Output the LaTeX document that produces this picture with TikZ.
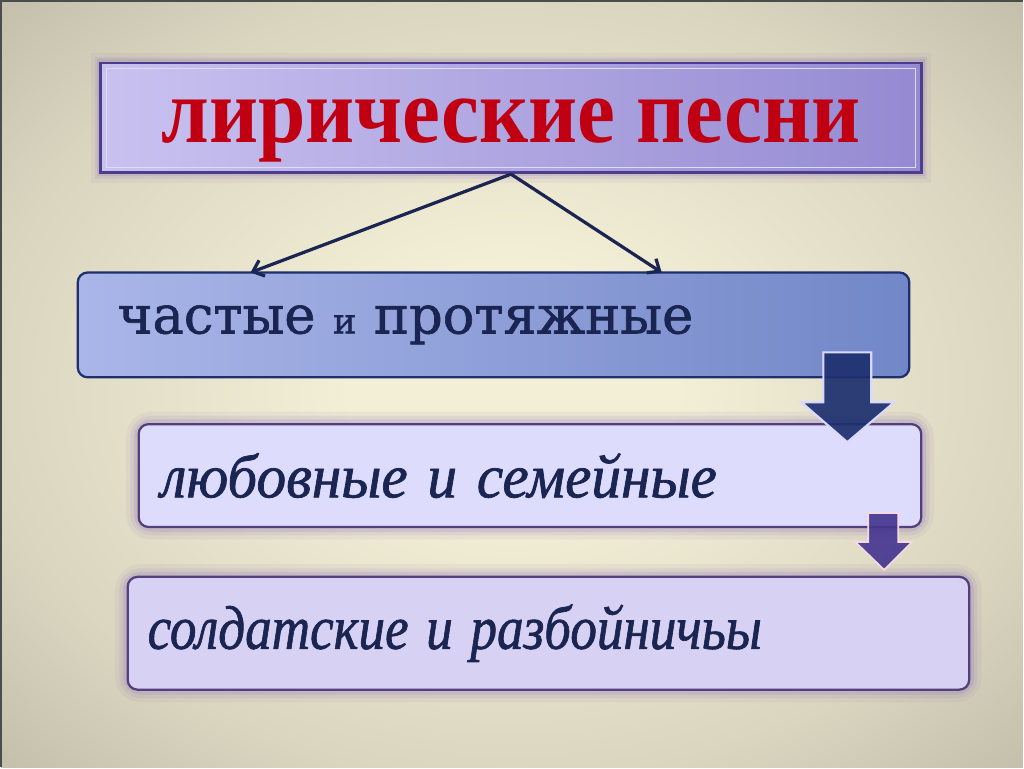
\documentclass[tikz,border=0pt]{standalone}
\usepackage{fontspec}
\usetikzlibrary{arrows.meta}
\setmainfont{Liberation Serif}
\newfontfamily\plainfont[FakeBold=1.2]{DejaVu Serif}
\newfontfamily\slantfont[FakeBold=1.2, WordSpace=0.75]{Liberation Serif Italic}

\definecolor{bgin}{HTML}{F3EED6}
\definecolor{bgmid}{HTML}{DAD5BF}
\definecolor{bgedge}{HTML}{BDB9A6}
\definecolor{bgout}{HTML}{9E9D90}
\definecolor{titleleft}{HTML}{C9C2F0}
\definecolor{titleright}{HTML}{958AD2}
\definecolor{titleline}{HTML}{4B3F8C}
\definecolor{titlered}{HTML}{C00012}
\definecolor{navy}{HTML}{1B2552}
\definecolor{blueleft}{HTML}{AAB6E8}
\definecolor{blueright}{HTML}{7287C8}
\definecolor{blueline}{HTML}{1D2F6E}
\definecolor{purpleline}{HTML}{523F7C}
\definecolor{glowpurple}{HTML}{8A6AB8}

\pgfdeclareradialshading{backdrop}{\pgfpoint{0bp}{0bp}}{color(0bp)=(bgin); color(8bp)=(bgin); color(26bp)=(bgmid); color(38bp)=(bgedge); color(50bp)=(bgout)}

\begin{document}
\begin{tikzpicture}[x=0.025cm, y=-0.025cm,
	kind/.style={rounded corners=7pt, line width=1.6pt, inner ysep=0pt, align=left},
	glow/.style={rounded corners=9pt, draw=glowpurple}
]
	% background
	\shade[shading=backdrop] (0,0) rectangle (1024,768);
	\draw[black!70, line width=1.5pt] (0,768) -- (0,0) -- (1024,0);

	% title
	\foreach \w/\o in {14/0.07, 9/0.12, 5/0.18}
		\draw[glowpurple, line width=\w pt, opacity=\o] (100,62) rectangle (922,172);
	\node[draw=titleline, line width=2pt, left color=titleleft, right color=titleright,
		minimum width=20.55cm, minimum height=2.75cm, inner sep=0pt] (title) at (511,117) {};
	\draw[white!40!titleleft, line width=0.8pt] ([shift={(7,7)}]title.north west) rectangle ([shift={(-7,-7)}]title.south east);
	\node[titlered, font=\bfseries\fontsize{66}{72}\selectfont, yshift=-9] (titletext) at (title.center)
		{\scalebox{0.92}[1]{лирические песни}};

	% kinds of songs
	\foreach \w/\o in {18/0.07, 12/0.11, 7/0.17} {
		\draw[glow, line width=\w pt, opacity=\o] (138,424) rectangle (922,527);
		\draw[glow, line width=\w pt, opacity=\o] (127,577) rectangle (970,690);
	}
	\node[kind, draw=blueline, left color=blueleft, right color=blueright,
		minimum width=20.825cm, minimum height=2.625cm, text width=18.825cm, inner xsep=1cm,
		text=navy, font=\plainfont\fontsize{37.5}{42}\selectfont] (fast) at (493.5,324.5)
		{частые {\fontsize{25}{28}\selectfont и} протяжные};
	\node[kind, draw=purpleline, fill=blue!12!white!85!titleleft,
		minimum width=19.6cm, minimum height=2.575cm, text width=18.5cm, inner xsep=0.55cm,
		text=navy, font=\slantfont\fontsize{44}{50}\selectfont] (love) at (530,475.5)
		{\scalebox{0.96}[1]{любовные и семейные}};
	\node[kind, draw=purpleline, fill=titleleft!75!white,
		minimum width=21.075cm, minimum height=2.825cm, text width=20.075cm, inner xsep=0.5cm,
		text=navy, font=\slantfont\fontsize{44}{50}\selectfont] (soldier) at (548.5,633.5)
		{\scalebox{0.86}[1]{солдатские и разбойничьы}};

	% connectors
	\coordinate (leftend) at (250,272);
	\coordinate (rightend) at (662,272);
	\draw[-{Straight Barb[length=7pt, width=12pt]}, navy, line width=2.3pt] (title.south) -- (leftend);
	\draw[-{Straight Barb[length=7pt, width=12pt]}, navy, line width=2.3pt] (title.south) -- (rightend);

	% block arrows
	\draw[fill=blueline, fill opacity=0.92, draw=white!85!blue, line width=1.5pt]
		(824,352) -- (872,352) -- (872,402) -- (895,402) -- (848,442) -- (802,402) -- (824,402) -- cycle;
	\draw[fill=purpleline!85!blue, fill opacity=0.92, draw=white!85!purple, line width=1.2pt]
		(869,513) -- (899,513) -- (899,542) -- (913,542) -- (885,570) -- (856,542) -- (869,542) -- cycle;
\end{tikzpicture}
\end{document}
